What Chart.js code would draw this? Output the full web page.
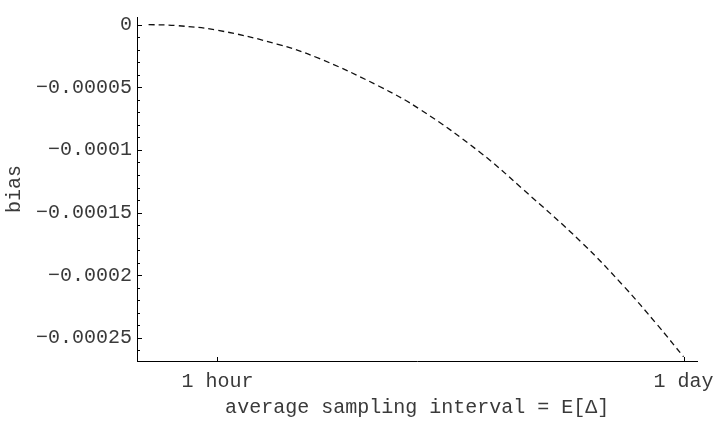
<!DOCTYPE html>
<html>
<head>
<meta charset="utf-8">
<script src="https://cdn.jsdelivr.net/npm/chart.js@4/dist/chart.umd.min.js"></script>
<style>
  html, body { margin: 0; padding: 0; background: #fff; }
  canvas { display: block; }
</style>
</head>
<body>
<canvas id="c" width="723" height="424"></canvas>
<script>
// average sampling interval, in hours
const intervalHours = [0.625, 0.75, 1, 1.5, 2, 3, 4, 6, 8, 12, 16, 20, 24];
// estimated bias at each interval
const biasValues = [0, -0.0000007, -0.0000045, -0.0000155, -0.000027, -0.000049,
                    -0.000068, -0.000102, -0.000131, -0.000174, -0.000209, -0.000239, -0.000265];

const xTickValues = [1, 24];
const xTickLabels = ['1 hour', '1 day'];
const yTickValues = [0, -0.00005, -0.0001, -0.00015, -0.0002, -0.00025];
const yTickLabels = ['0', '\u22120.00005', '\u22120.0001', '\u22120.00015', '\u22120.0002', '\u22120.00025'];
const yMinorStep = 0.00001;

const FONT = "'Courier New', 'Liberation Mono', monospace";
const TEXT = '#3a3a3a';

// inward tick marks: long on labelled values, short in between
const innerTicks = {
  id: 'innerTicks',
  afterDraw(chart) {
    const ctx = chart.ctx, area = chart.chartArea;
    const ys = chart.scales.y, xs = chart.scales.x;
    ctx.save();
    ctx.strokeStyle = '#000';
    ctx.lineWidth = 1;
    ys.ticks.forEach(t => {
      const py = Math.round(ys.getPixelForValue(t.value)) + 0.5;
      const len = t.label ? 5 : 3;
      ctx.beginPath();
      ctx.moveTo(area.left, py);
      ctx.lineTo(area.left + len, py);
      ctx.stroke();
    });
    xs.ticks.forEach(t => {
      const px = Math.round(xs.getPixelForValue(t.value)) + 0.5;
      ctx.beginPath();
      ctx.moveTo(px, area.bottom);
      ctx.lineTo(px, area.bottom - 4);
      ctx.stroke();
    });
    ctx.restore();
  }
};

new Chart(document.getElementById('c'), {
  type: 'line',
  data: {
    datasets: [{
      data: intervalHours.map((h, i) => ({ x: h, y: biasValues[i] })),
      borderColor: '#111',
      borderWidth: 1.3,
      borderDash: [6, 4],
      pointRadius: 0,
      fill: false,
      tension: 0.4
    }]
  },
  options: {
    responsive: false,
    animation: false,
    events: [],
    layout: { padding: { top: 13, right: 20, left: 0, bottom: 0 } },
    plugins: { legend: { display: false }, tooltip: { enabled: false } },
    scales: {
      x: {
        type: 'logarithmic',
        min: 0.5776,
        max: 26.37,
        grid: { display: false, drawTicks: false },
        border: { display: true, color: '#000', width: 1 },
        afterBuildTicks(scale) { scale.ticks = xTickValues.map(v => ({ value: v })); },
        afterFit(scale) { scale.height = 63; },
        ticks: {
          autoSkip: false,
          maxRotation: 0,
          padding: 9,
          color: TEXT,
          font: { family: FONT, size: 20 },
          callback: (v) => {
            const i = xTickValues.findIndex(t => Math.abs(t - v) < 1e-9);
            return i >= 0 ? xTickLabels[i] : '';
          }
        },
        title: {
          display: true,
          text: 'average sampling interval = E[\u0394]',
          color: TEXT,
          font: { family: FONT, size: 20 },
          padding: { top: 0, bottom: 4 }
        }
      },
      y: {
        type: 'linear',
        min: -0.0002684,
        max: 0.00000607,
        grid: { display: false, drawTicks: false },
        border: { display: true, color: '#000', width: 1 },
        afterBuildTicks(scale) {
          const n = Math.round(-yTickValues[yTickValues.length - 1] / yMinorStep) + 1;
          const ticks = [];
          for (let k = 0; k <= n; k++) ticks.push({ value: -k * yMinorStep });
          scale.ticks = ticks;
        },
        afterFit(scale) { scale.width = 137; },
        ticks: {
          autoSkip: false,
          padding: 5,
          color: TEXT,
          font: { family: FONT, size: 20 },
          callback: (v) => {
            const i = yTickValues.findIndex(t => Math.abs(t - v) < 1e-9);
            return i >= 0 ? yTickLabels[i] : '';
          }
        },
        title: {
          display: true,
          text: 'bias',
          color: TEXT,
          font: { family: FONT, size: 20 },
          padding: { top: 2.5, bottom: 0 }
        }
      }
    }
  },
  plugins: [innerTicks]
});
</script>
</body>
</html>
